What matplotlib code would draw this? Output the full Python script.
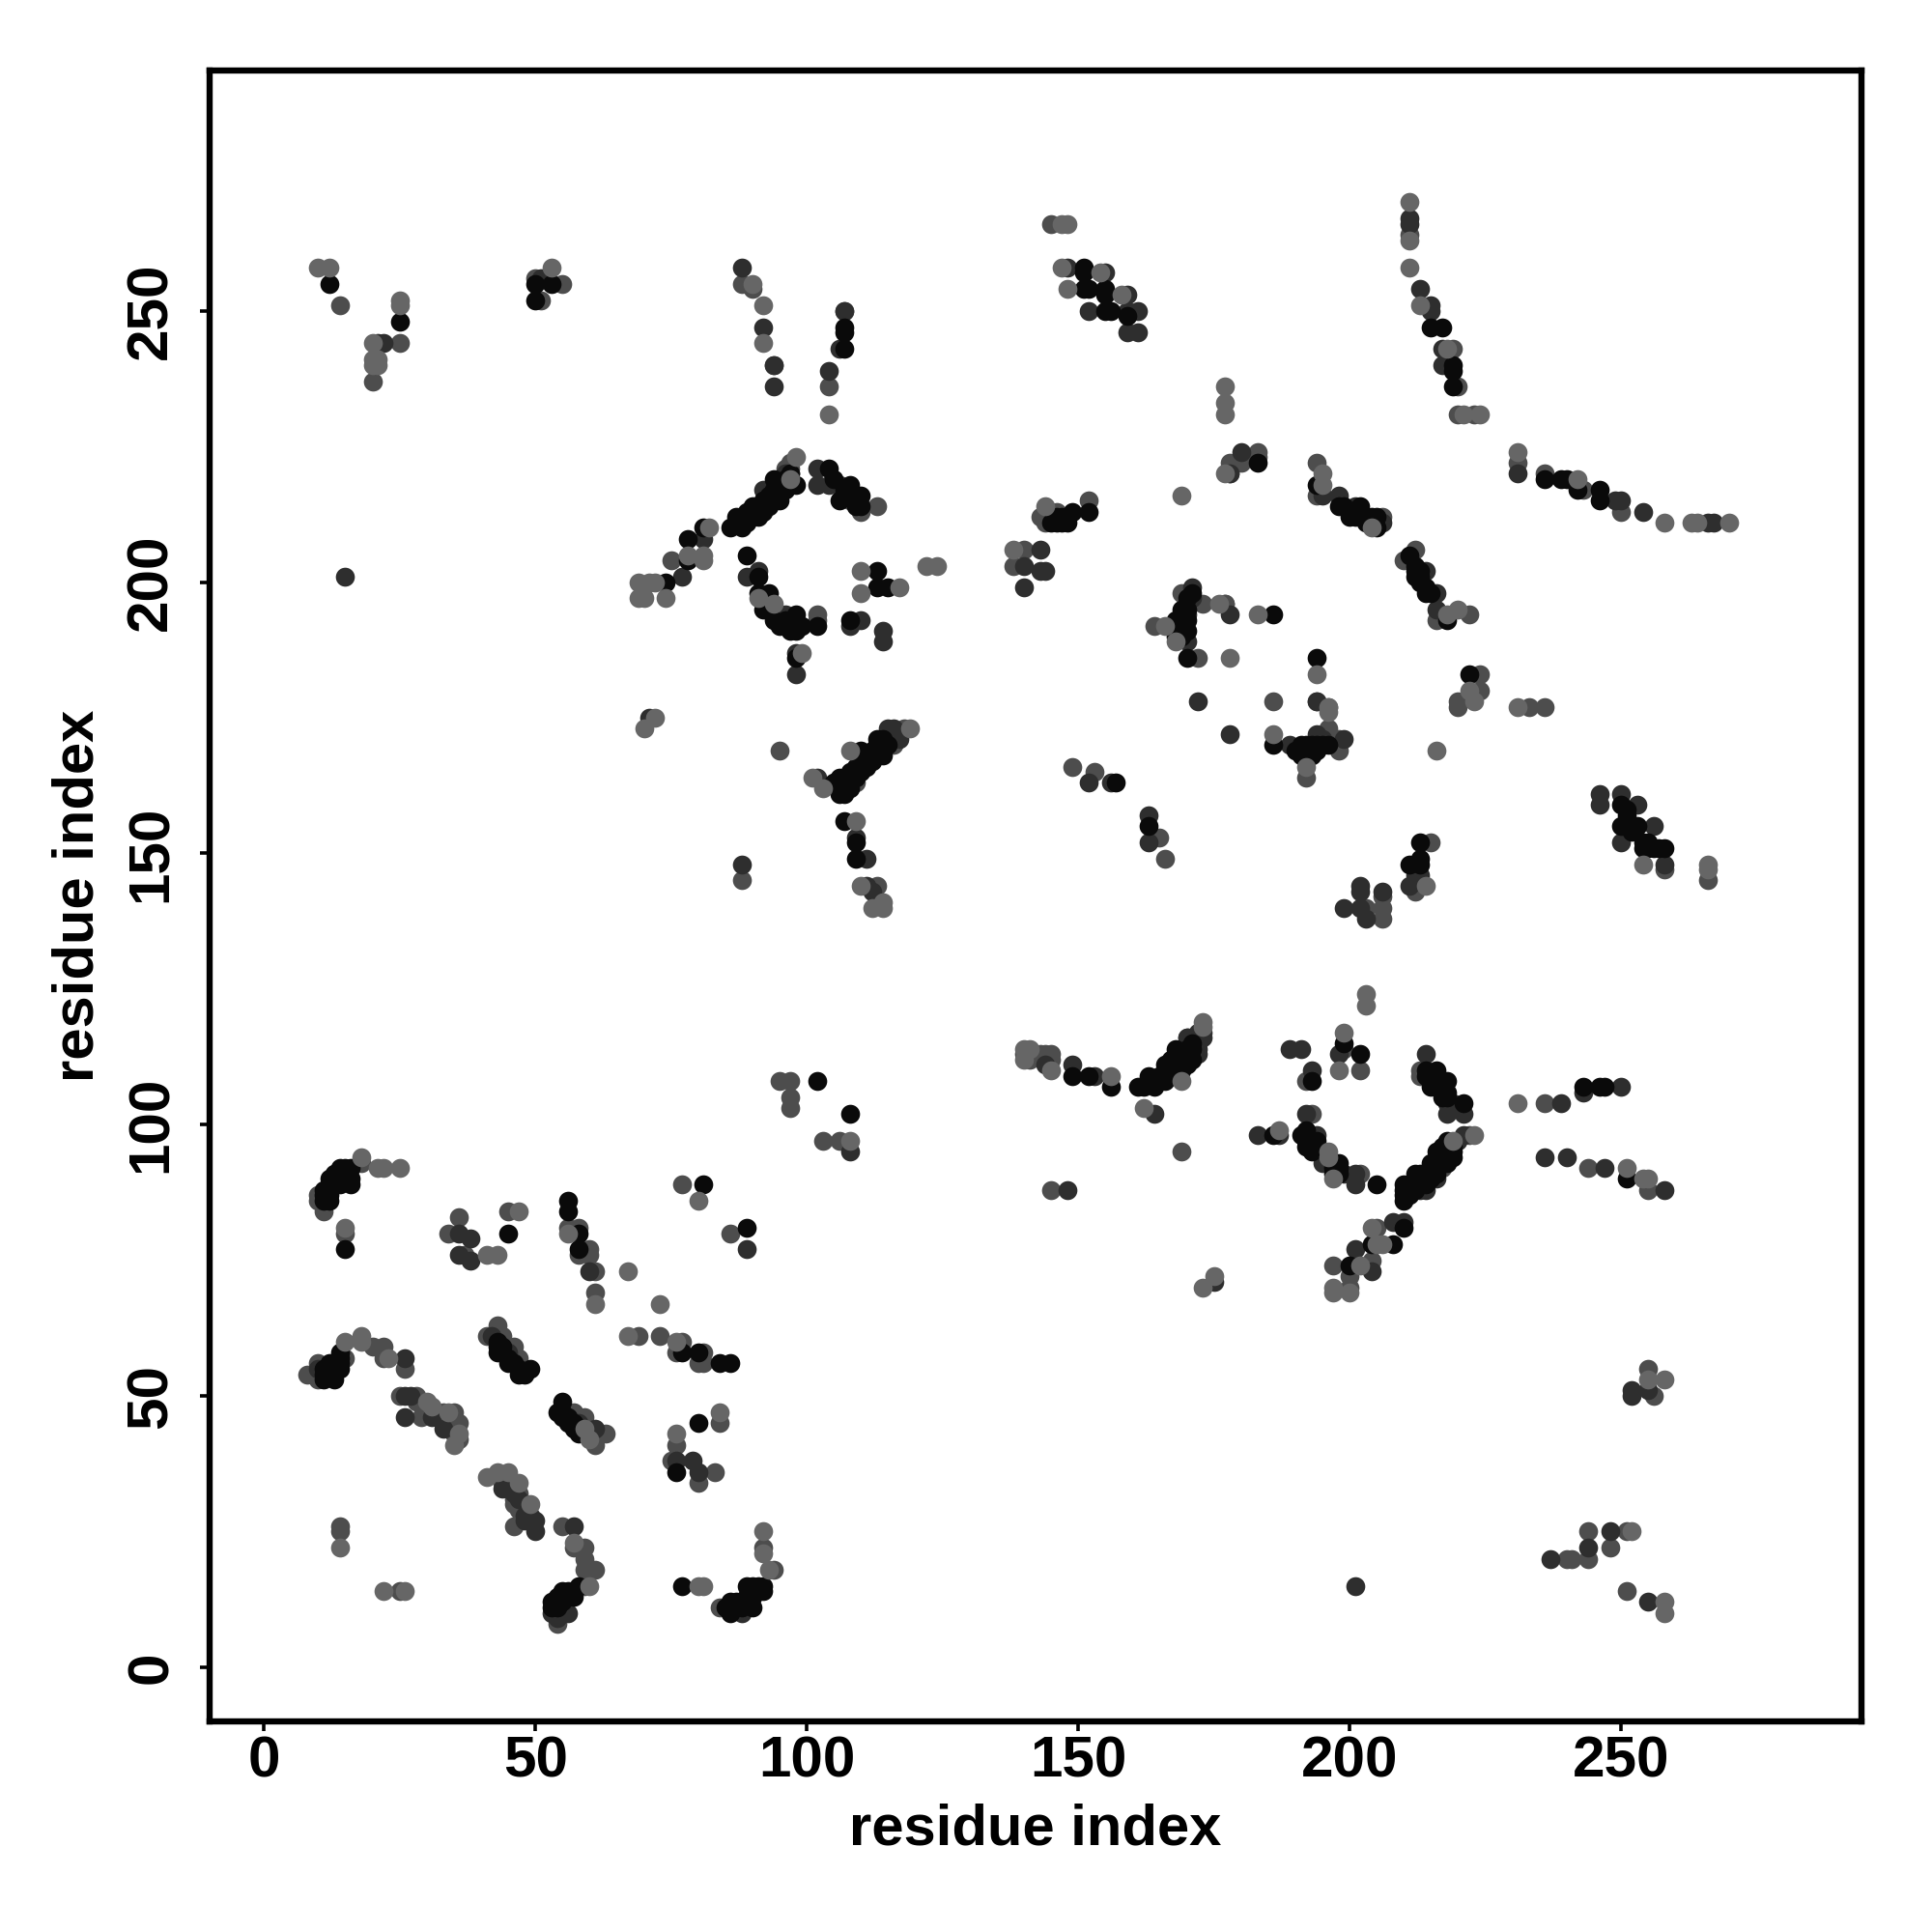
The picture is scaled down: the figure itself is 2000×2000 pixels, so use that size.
import matplotlib
matplotlib.use('Agg')
import matplotlib.pyplot as plt

plt.rcParams['font.family'] = ['Liberation Sans', 'DejaVu Sans']

ticks = [0, 50, 100, 150, 200, 250]
axis_label = 'residue index'

# contacts (residue i, residue j), split by how dark the dot is
black_pts = [
    (12,255),(25,248),(50,255),(53,255),(50,252),(74,200),(78,208),(78,204),(81,210),(86,210),(88,210),(87,212),
    (89,213),(90,214),(91,212),(93,214),(94,219),(95,215),(98,218),(104,221),(108,218),(106,215),(110,216),
    (89,205),(91,201),(91,198),(93,198),(92,195),(94,193),(98,194),(98,192),(99,192),(102,192),(98,191),(108,193),(98,186),
    (113,202),(113,199),(115,199),(107,247),(107,246),(107,243),
    (151,258),(151,257),(151,254),(152,254),(155,254),(155,253),(155,250),(156,250),(159,249),
    (152,213),(149,213),(148,211),(145,211),(183,222),
    (171,198),(186,194),(169,195),(168,193),(168,191),(170,191),(170,186),(186,170),(194,186),
    (110,169),(106,164),(106,162),(107,161),(106,161),(108,163),(108,165),(110,167),(111,166),(113,171),(113,169),(114,168),
    (107,156),(109,152),(109,149),
    (215,247),(217,247),(219,240),(219,239),(219,236),
    (194,218),(198,214),(202,214),(201,212),(202,212),(205,212),(205,210),
    (211,205),(212,202),(212,201),(214,198),(218,193),(222,183),
    (191,170),(191,168),(192,168),(193,168),(195,170),(196,170),
    (236,219),(239,219),(240,219),(242,217),(246,217),(246,215),
    (250,159),(250,155),(253,155),(254,152),(258,151),(257,151),
    (213,152),(211,148),(213,149),(213,148),
    (15,92),(16,92),(14,92),(15,90),(16,90),(16,89),(12,90),(12,89),(12,88),(12,86),(15,77),
    (45,80),(56,86),(56,84),(58,80),(58,77),(77,58),(80,58),(84,56),(86,56),(81,89),(89,81),
    (12,54),(12,56),(14,55),(14,58),(43,58),(45,56),(47,54),(49,55),
    (55,49),(54,47),(56,45),(58,43),(80,45),(76,36),
    (58,15),(55,14),(56,13),(53,12),(77,15),(89,15),(92,15),(92,14),(90,13),(86,12),(86,10),(90,11),
    (149,109),(152,109),(156,107),(161,107),(162,107),(164,107),(163,109),(166,111),(168,114),(169,110),(170,113),
    (199,115),(202,113),(193,108),(186,98),(191,98),(192,99),(192,96),(193,95),(197,93),(198,93),(198,91),(205,89),
    (210,89),(210,86),(211,88),(212,91),(214,91),(215,90),(216,95),(218,97),(219,94),
    (214,110),(216,110),(215,107),(218,108),(221,104),(210,81),(208,78),(204,78),(200,74),
    (243,107),(246,107),(247,107),(251,90),(102,108),(108,102),(157,163),(163,155),
]
dark_pts = [
    (22,244),(21,244),(51,256),(88,258),(92,247),(81,208),(77,201),(91,202),(89,201),(96,194),(102,221),(102,218),(104,218),(106,218),
    (94,240),(94,236),(104,239),(107,250),(106,243),(98,187),(98,183),(110,193),(108,192),(114,191),(114,189),
    (15,201),(148,258),(155,257),(159,253),(152,250),(159,250),(161,250),(159,246),(161,246),
    (178,220),(180,224),(143,206),(140,203),(143,202),(144,202),(140,199),
    (171,199),(178,194),(170,194),(170,189),(172,178),(178,172),(194,178),
    (71,175),(102,164),(116,173),(117,171),(109,153),(111,149),(88,148),(111,144),(112,143),
    (211,267),(211,266),(213,254),(215,251),(215,250),(217,243),(217,240),
    (198,216),(195,216),(201,214),(214,202),(216,198),(216,195),
    (189,170),(194,172),(199,171),(246,161),(246,159),(250,161),(253,159),(256,155),(250,152),(258,148),
    (211,144),(202,144),(202,143),(206,143),(199,140),(202,140),(203,138),
    (231,220),(250,215),(249,215),(254,213),(266,211),(267,211),
    (36,80),(38,79),(36,76),(38,75),(60,73),(26,57),(27,50),(26,50),(26,46),(31,46),(33,44),
    (42,61),(61,44),(76,38),(79,38),(80,36),(44,33),(50,27),(50,25),(57,26),
    (56,10),(53,10),(54,9),(88,10),(89,77),
    (144,111),(149,111),(153,109),(164,102),(170,116),(173,116),(172,117),
    (198,113),(189,114),(191,114),(193,110),(192,102),(183,98),(187,98),(194,98),(195,93),(201,91),(201,89),
    (213,88),(220,97),(221,98),(214,113),(217,107),(218,104),(218,102),(221,102),
    (210,82),(208,82),(201,77),(204,73),(148,88),(175,71),
    (239,104),(243,106),(250,107),(236,94),(240,94),(247,92),(258,88),
    (201,15),(237,20),(244,22),(248,25),(252,51),(252,50),(255,51),(255,12),(108,95),
    (152,163),(156,163),(163,157),(163,152),
]
mid_pts = [
    (14,251),(25,244),(20,237),(50,256),(55,255),(51,252),(90,254),(88,255),(94,240),(104,236),(107,250),
    (75,204),(145,266),(110,213),(108,215),(97,221),(113,214),(102,193),(102,194),
    (152,215),(145,213),(143,212),(144,211),(178,220),(180,222),(183,224),(183,223),(178,222),
    (138,203),(140,206),(169,198),(173,196),(177,196),(164,192),(172,186),(177,196),
    (95,169),(109,163),(115,172),(116,170),(118,173),(88,145),(113,144),
    (211,264),(219,243),(220,236),(220,231),(223,231),(194,222),(194,216),(206,212),(210,204),(212,206),(216,193),(222,194),
    (186,178),(194,178),(196,177),(192,164),(196,173),(198,171),(198,169),(224,183),(224,180),(220,178),(222,179),(220,177),
    (233,177),(236,177),(231,222),(236,220),(243,217),(250,213),(258,147),(266,145),(215,152),(212,143),(206,142),(206,140),(203,140),(206,138),
    (18,93),(10,87),(10,86),(11,84),(15,80),(36,83),(34,80),(37,76),(45,84),(56,81),(58,81),(60,77),(58,76),(60,76),(61,73),(61,69),
    (69,61),(73,61),(77,60),(76,58),(81,58),(80,56),(81,56),(77,89),(86,80),
    (20,59),(22,59),(22,57),(26,55),(8,54),(10,54),(10,53),(10,56),(15,57),(25,50),(29,46),(35,47),(36,45),(36,42),
    (43,63),(41,61),(44,61),(46,59),(47,57),(57,47),(59,46),(61,41),(63,43),(84,45),(76,41),(75,38),(80,34),(83,36),
    (47,32),(46,30),(46,26),(55,26),(59,22),(57,22),(59,20),(59,18),(61,18),(59,15),(54,8),(14,26),(14,25),(25,14),(92,22),(94,18),(84,11),
    (144,113),(169,95),(170,116),(172,115),(199,114),(202,110),(193,102),(192,108),(202,91),(217,92),(222,98),(213,110),(213,109),
    (205,81),(204,75),(197,74),(200,72),(200,70),(145,88),(236,104),(244,92),(255,88),
    (240,20),(241,20),(244,20),(244,25),(251,25),(248,22),(251,14),(255,55),(256,50),
    (95,108),(97,108),(97,105),(97,103),(103,97),(106,97),(149,166),(153,165),(165,153),(166,149),
]
light_pts = [
    (10,258),(12,258),(25,252),(25,251),(20,244),(20,241),(21,241),(20,240),(21,240),(53,258),
    (69,200),(71,200),(72,200),(74,197),(69,197),(70,197),(81,205),(81,204),(82,210),(78,205),
    (90,255),(92,251),(92,244),(104,231),(98,223),(97,219),(94,196),(91,197),(99,187),
    (110,202),(110,198),(117,199),(122,203),(124,203),(147,266),(148,266),(147,258),(154,257),(148,254),(158,253),
    (177,236),(177,233),(177,231),(177,220),(169,216),(144,214),(138,206),(176,196),(183,194),(166,192),(168,189),(178,186),
    (186,172),(194,183),(196,177),(70,173),(72,175),(101,164),(103,162),(108,169),(119,173),(109,156),(110,144),(112,140),(114,140),(114,141),
    (211,270),(211,263),(211,258),(213,251),(218,243),(221,231),(224,231),(195,220),(195,218),(204,210),(218,194),(220,195),
    (192,166),(196,176),(222,180),(223,178),(231,224),(231,177),(242,219),(258,211),(263,211),(264,211),(270,211),
    (254,148),(266,148),(266,147),(214,144),(216,169),
    (18,94),(21,92),(22,92),(25,92),(15,81),(41,76),(43,76),(47,84),(56,80),(61,67),(67,73),(73,67),(67,61),(76,60),(80,86),
    (15,60),(18,61),(18,60),(23,57),(30,49),(31,48),(34,47),(36,43),(35,41),(60,42),(59,44),(84,47),(76,43),
    (41,35),(43,36),(45,36),(47,34),(49,30),(57,23),(60,15),(14,22),(22,14),(26,14),(80,15),(81,15),(92,25),(92,21),(93,18),
    (140,114),(141,114),(140,112),(145,110),(156,109),(162,103),(169,108),(173,118),(173,119),(173,70),(175,72),
    (203,124),(203,122),(199,117),(198,110),(187,99),(196,95),(196,94),(197,90),(219,97),(223,98),(204,81),(206,78),(205,78),(202,74),(197,70),(197,69),(200,69),
    (231,104),(251,92),(254,90),(255,90),(255,53),(258,53),(252,25),(258,12),(258,10),(108,97),
]

# the crowded stretches of the diagonals, read separately
black_dense = [
    (88,211),(89,211),(90,212),(90,213),(91,214),(92,213),(92,214),(92,215),(93,215),(93,216),(94,216),(94,217),
    (95,216),(95,217),(95,218),(96,217),(96,218),(96,219),(97,218),(97,220),
    (95,192),(96,193),(97,191),(97,192),(97,193),(92,197),(93,196),
    (105,219),(107,217),(108,216),(109,215),(109,214),(110,214),
    (105,163),(106,163),(107,162),(107,163),(107,164),(108,162),(108,164),(109,164),(109,165),(109,166),(110,165),(110,166),
    (111,167),(111,168),(112,167),(112,168),(112,169),(113,170),(114,170),(114,171),(115,170),
    (169,194),(170,195),(169,192),(170,193),(170,197),(169,190),(168,190),
    (190,169),(191,169),(192,169),(193,169),(194,169),(194,170),(193,170),(192,170),
    (165,108),(165,109),(166,108),(167,110),(167,112),(168,112),(168,113),(169,112),(170,114),(171,114),(171,115),(170,111),(171,112),
    (192,97),(193,97),(194,96),(194,97),(197,91),(197,92),(198,92),
    (210,87),(210,88),(211,87),(211,89),(212,88),(212,89),(213,89),(213,90),(213,91),(214,89),(214,90),
    (215,92),(215,93),(216,91),(216,92),(216,93),(217,93),(217,95),(217,96),(218,93),(218,94),(218,95),(219,95),(219,96),
    (214,109),(215,109),(215,108),(216,108),(216,107),(217,106),(217,105),(218,106),(218,105),
    (11,53),(11,54),(11,55),(12,55),(13,53),(13,54),(13,55),(13,56),(14,56),(14,57),
    (11,86),(11,87),(11,88),(13,90),(13,91),(12,87),(13,89),(14,89),(14,90),(14,91),
    (43,60),(43,59),(44,59),(44,58),(45,57),(46,56),(47,55),(48,54),
    (55,47),(55,46),(56,46),(57,45),(57,44),(58,44),
    (53,11),(54,11),(54,12),(54,13),(55,12),(55,13),(56,14),(57,14),(57,13),
    (85,11),(87,11),(87,12),(88,11),(88,12),(89,12),(89,13),(90,14),(90,15),(91,15),(91,14),
    (146,212),(147,212),(146,211),(147,211),
    (251,155),(252,155),(251,157),(251,158),(252,154),(254,151),(255,152),(255,151),(256,151),
    (212,203),(213,202),(213,201),(213,200),(214,199),(215,198),
    (199,214),(200,213),(200,212),(203,211),(204,211),(204,212),
]
dark_dense = [
    (92,217),(93,217),(95,219),(96,220),(94,195),(115,171),(116,172),(117,172),(115,173),
    (172,113),(172,116),(171,116),(173,117),(172,114),(167,111),(195,171),(171,197),
    (215,91),(214,88),(216,90),(219,104),(219,103),(220,103),(199,91),
    (10,55),(45,58),(58,45),(59,43),(46,33),(46,32),(47,31),(48,28),(48,27),(49,28),(49,27),
    (212,147),(212,148),(212,146),(213,146),(206,211),(54,10),
]
mid_dense = [
    (96,221),(97,222),(97,220),(140,113),(141,113),(141,112),(143,113),(144,112),(145,112),(145,113),(146,213),
    (28,49),(28,50),(29,49),(30,47),(31,47),(32,47),(32,46),(33,46),(33,47),(34,46),(34,45),(35,45),(35,44),(35,43),
    (44,34),(45,34),(45,33),(46,31),(47,30),(47,29),(48,29),(46,57),(56,47),(58,45),(59,44),(60,43),(60,44),
    (213,145),
]

fig = plt.figure(figsize=(10, 10), dpi=200)
ax = fig.add_axes([217/2000, 1 - 1782/2000, (1927 - 217)/2000, (1782 - 73)/2000])

# lighter mid and dark dots go down first, black over them, the palest last
groups = [(mid_pts + mid_dense, '#4d4d4d'), (dark_pts + dark_dense, '#2e2e2e'),
          (black_pts + black_dense, '#0a0a0a'), (light_pts, '#666666')]
for pts, col in groups:
    x = [p[0] for p in pts]
    y = [p[1] for p in pts]
    ax.scatter(x, y, s=50, c=col, linewidths=0, zorder=3)

ax.set_xlim(-10, 294.3)
ax.set_ylim(-10, 294.3)
ax.set_xticks(ticks)
ax.set_yticks(ticks)
ax.set_xticklabels(ticks, fontsize=21.7, fontweight='bold')
ax.set_yticklabels(ticks, fontsize=21.7, fontweight='bold', rotation=90, va='center')
ax.tick_params(axis='x', length=3.6, width=1.3, pad=1.5)
ax.tick_params(axis='y', length=3.6, width=1.3, pad=8)
for s in ax.spines.values():
    s.set_linewidth(2.3)
ax.set_xlabel(axis_label, fontsize=21.5, fontweight='bold', labelpad=5.5)
ax.set_ylabel(axis_label, fontsize=21.5, fontweight='bold', labelpad=7.6)

plt.savefig('out.png', dpi=200)
